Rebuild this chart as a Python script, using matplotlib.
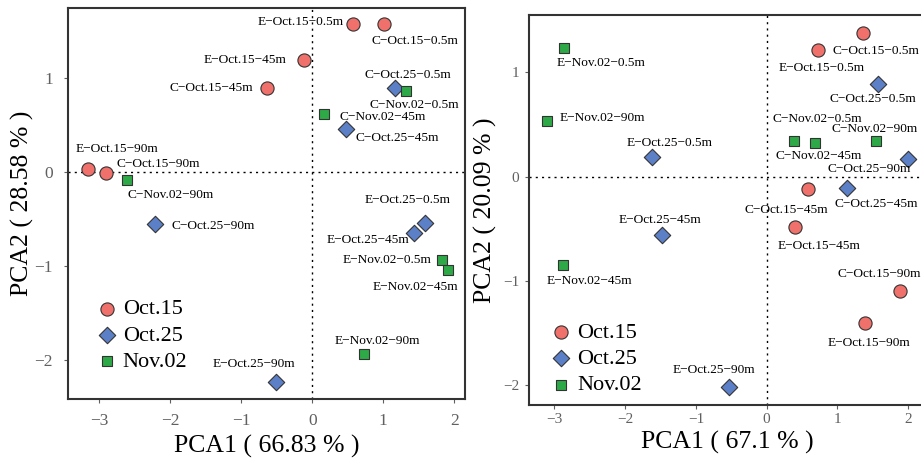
import numpy as np
import matplotlib.pyplot as plt

plt.rcParams['font.family'] = ['Liberation Serif', 'DejaVu Serif']

groups = ['Oct.15', 'Oct.25', 'Nov.02']

# left panel
left_names = ['E−Oct.15−0.5m', 'C−Oct.15−0.5m', 'E−Oct.15−45m', 'C−Oct.15−45m',
              'E−Oct.15−90m', 'C−Oct.15−90m',
              'C−Oct.25−0.5m', 'C−Oct.25−45m', 'C−Oct.25−90m',
              'E−Oct.25−0.5m', 'E−Oct.25−45m', 'E−Oct.25−90m',
              'C−Nov.02−0.5m', 'C−Nov.02−45m', 'C−Nov.02−90m',
              'E−Nov.02−0.5m', 'E−Nov.02−45m', 'E−Nov.02−90m']
left_group = [0, 0, 0, 0, 0, 0, 1, 1, 1, 1, 1, 1, 2, 2, 2, 2, 2, 2]
left_pc1 = [0.57, 1.01, -0.12, -0.64, -3.16, -2.91,
            1.16, 0.47, -2.21, 1.59, 1.43, -0.51,
            1.32, 0.16, -2.61, 1.83, 1.91, 0.73]
left_pc2 = [1.58, 1.57, 1.19, 0.90, 0.03, -0.01,
            0.89, 0.46, -0.55, -0.54, -0.645, -2.23,
            0.865, 0.62, -0.085, -0.93, -1.035, -1.93]

# right panel
right_names = ['C−Oct.15−0.5m', 'E−Oct.15−0.5m', 'C−Oct.15−45m', 'E−Oct.15−45m',
               'C−Oct.15−90m', 'E−Oct.15−90m',
               'C−Oct.25−0.5m', 'E−Oct.25−0.5m', 'C−Oct.25−90m', 'C−Oct.25−45m',
               'E−Oct.25−45m', 'E−Oct.25−90m',
               'E−Nov.02−0.5m', 'E−Nov.02−90m', 'C−Nov.02−0.5m', 'C−Nov.02−45m',
               'C−Nov.02−90m', 'E−Nov.02−45m']
right_group = [0, 0, 0, 0, 0, 0, 1, 1, 1, 1, 1, 1, 2, 2, 2, 2, 2, 2]
right_pc1 = [1.36, 0.73, 0.59, 0.40, 1.89, 1.385,
             1.575, -1.62, 2.0, 1.135, -1.48, -0.53,
             -2.87, -3.10, 0.39, 0.68, 1.55, -2.88]
right_pc2 = [1.375, 1.21, -0.12, -0.485, -1.10, -1.40,
             0.89, 0.19, 0.17, -0.105, -0.56, -2.02,
             1.23, 0.53, 0.345, 0.32, 0.345, -0.85]

# label offsets in pixels (left edge of text, vertical centre)
left_off = [(-95, 2), (-13, -17), (-100, 0), (-97, 0), (-12, 20), (11, 9),
            (-30, 13), (10, -9), (16, -2), (-61, 23), (-87, -7), (-63, 18),
            (-37, -14), (16, -3), (1, -15), (-100, 0), (-75, -17), (-30, 13)]
right_off = [(-30, -18), (-40, -18), (-64, -21), (-17, -19), (-63, 17), (-37, -20),
             (-48, -15), (-25, 14), (-81, -10), (-12, -16), (-43, 15), (-56, 17),
             (-7, -15), (12, 3), (-22, 22), (-39, -13), (-45, 12), (-16, -16)]

colors = ['#F0716B', '#5B80C8', '#2DAA47']
markers = ['o', 'D', 's']
sizes = [90, 70, 55]

W, H = 921, 459
fig = plt.figure(figsize=(W / 100, H / 100), dpi=100)
ax1 = fig.add_axes([68 / W, (H - 399) / H, (465 - 68) / W, (399 - 8) / H])
ax2 = fig.add_axes([529 / W, (H - 405) / H, (925 - 529) / W, (405 - 15) / H])


def draw(ax, names, grp, x, y, off, xlabel, ylabel, xlim, ylim, legpos,
         tsize, tpad, xlpad, ylpad):
    x = np.array(x)
    y = np.array(y)
    grp = np.array(grp)
    ax.axhline(0, color='black', ls=(0, (1.5, 3)), lw=1, zorder=1)
    ax.axvline(0, color='black', ls=(0, (1.5, 3)), lw=1, zorder=1)
    for g in range(3):
        m = grp == g
        ax.scatter(x[m], y[m], s=sizes[g], marker=markers[g], c=colors[g],
                   edgecolors='#333333', linewidths=0.8, zorder=3, label=groups[g])
    for i, name in enumerate(names):
        ax.annotate(name, (x[i], y[i]), xytext=off[i], textcoords='offset pixels',
                    ha='left', va='center', fontsize=9.6, zorder=4,
                    annotation_clip=False)
    ax.set_xlim(xlim)
    ax.set_ylim(ylim)
    ax.set_xticks([-3, -2, -1, 0, 1, 2])
    ax.set_yticks([-2, -1, 0, 1])
    ax.set_xlabel(xlabel, fontsize=18.5, labelpad=xlpad)
    ax.set_ylabel(ylabel, fontsize=18.5, labelpad=ylpad)
    ax.tick_params(colors='#606060', labelsize=tsize, length=3, width=0.8)
    ax.tick_params(axis='x', pad=tpad[0])
    ax.tick_params(axis='y', pad=tpad[1])
    for sp in ax.spines.values():
        sp.set_color('#333333')
        sp.set_linewidth(1.5)
    ax.legend(loc='center left', bbox_to_anchor=legpos, frameon=False,
              fontsize=16, handletextpad=0.1, labelspacing=0.25,
              borderpad=0, handlelength=1.2)


draw(ax1, left_names, left_group, left_pc1, left_pc2, left_off,
     'PCA1 ( 66.83 % )', 'PCA2 ( 28.58 % )', (-3.44, 2.15), (-2.41, 1.745),
     (0.037, 0.163), 12.5, (7, 8), 4, 0.5)
draw(ax2, right_names, right_group, right_pc1, right_pc2, right_off,
     'PCA1 ( 67.1 % )', 'PCA2 ( 20.09 % )', (-3.36, 2.24), (-2.19, 1.55),
     (0.02, 0.118), 11, (3, 4), 3, 4)

fig.savefig('out.png', dpi=100)
